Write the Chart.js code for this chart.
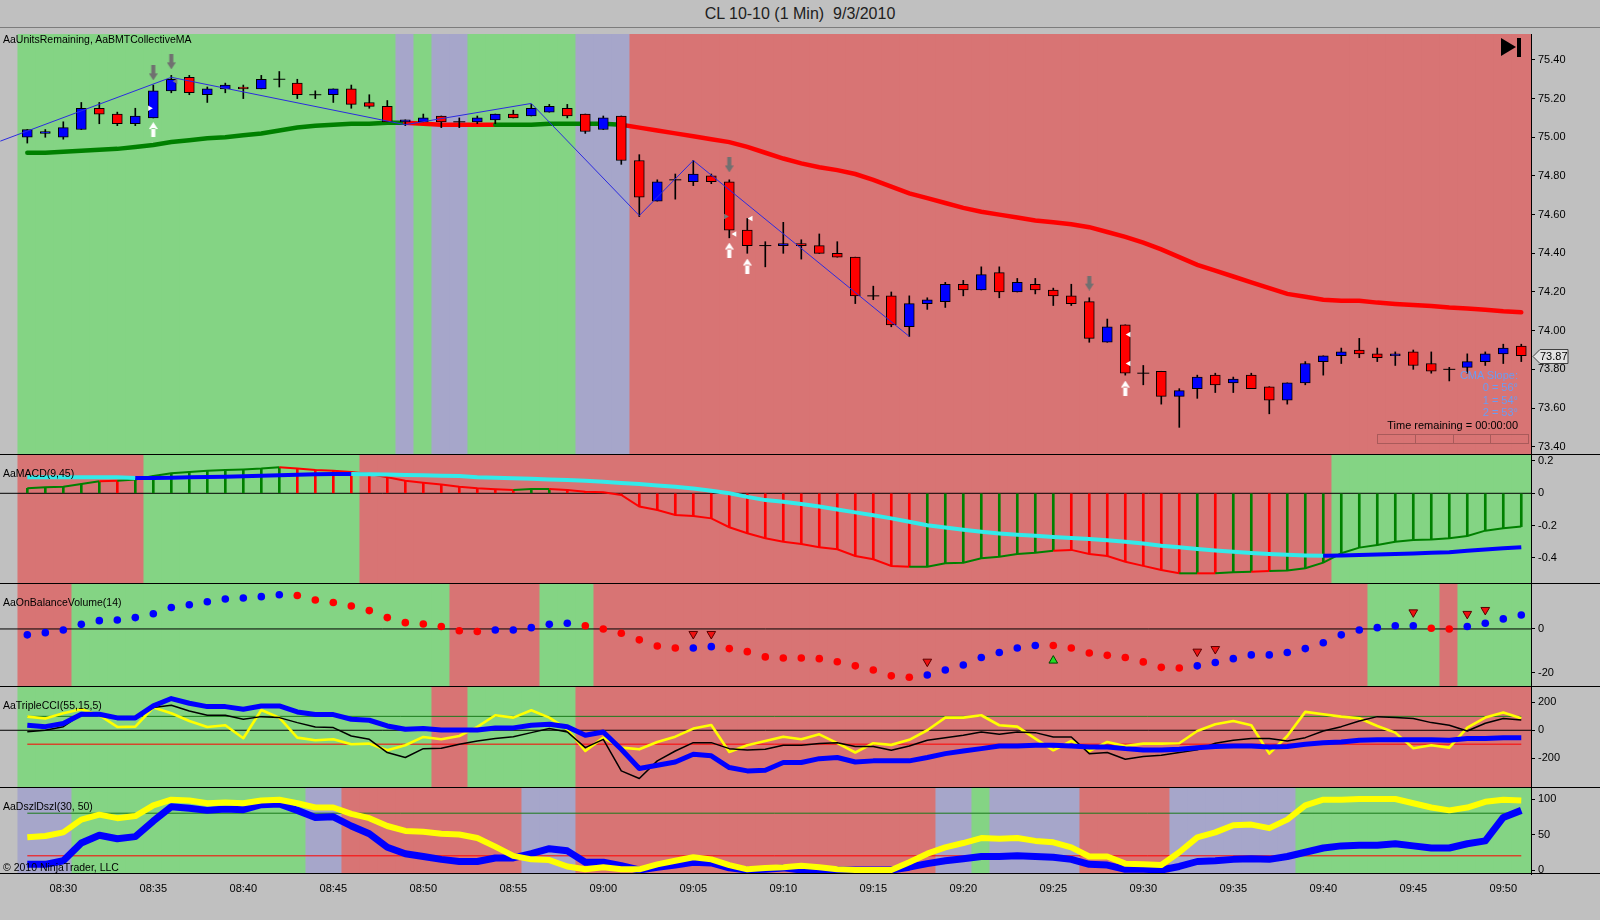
<!DOCTYPE html>
<html>
<head>
<meta charset="utf-8">
<title>CL 10-10 (1 Min) 9/3/2010</title>
<script src="https://cdn.jsdelivr.net/npm/chart.js@4.4.1/dist/chart.umd.min.js"></script>
<style>
  body { margin: 0; background: #c0c0c0; font-family: "Liberation Sans", Arial, sans-serif; }
  #wrap { position: relative; width: 1600px; height: 920px; overflow: hidden; }
  #title { position: absolute; left: 0; top: 0; width: 1600px; height: 27px; border-bottom: 1px solid #7c7c7c;
           text-align: center; font-size: 16px; line-height: 27px; color: #202020; }
  canvas { position: absolute; left: 0; }
  .lbl { position: absolute; left: 3px; font-size: 10.5px; line-height: 13px; color: #000; white-space: nowrap; }
  .info { position: absolute; right: 82px; font-size: 11px; line-height: 12.3px; text-align: right; white-space: nowrap; }
  #goEnd { position: absolute; left: 1501px; top: 38px; width: 22px; height: 19px; }
  #goEnd .tri { position: absolute; left: 0; top: 0; width: 0; height: 0; border-left: 15px solid #000;
                border-top: 9.5px solid transparent; border-bottom: 9.5px solid transparent; }
  #goEnd .bar { position: absolute; left: 16px; top: 0; width: 4px; height: 19px; background: #000; }
  #progress { position: absolute; left: 1377px; top: 434px; width: 150px; height: 8px; display: flex;
              border: 1px solid rgba(150, 80, 80, 0.7); }
  #progress i { flex: 1; border-right: 1px solid rgba(150, 80, 80, 0.7); }
  #progress i:last-child { border-right: none; }
</style>
</head>
<body>
<div id="wrap">
  <div id="title">CL 10-10 (1 Min)&nbsp; 9/3/2010</div>
  <canvas id="pricePanel" width="1600" height="421" style="top:34px"></canvas>
  <canvas id="macdPanel" width="1600" height="129" style="top:455px"></canvas>
  <canvas id="obvPanel" width="1600" height="103" style="top:584px"></canvas>
  <canvas id="cciPanel" width="1600" height="101" style="top:687px"></canvas>
  <canvas id="dszPanel" width="1600" height="132" style="top:788px"></canvas>

  <div class="lbl" style="top:33px">AaUnitsRemaining, AaBMTCollectiveMA</div>
  <div class="lbl" style="top:467px">AaMACD(9,45)</div>
  <div class="lbl" style="top:596px">AaOnBalanceVolume(14)</div>
  <div class="lbl" style="top:699px">AaTripleCCI(55,15,5)</div>
  <div class="lbl" style="top:800px">AaDszlDszl(30, 50)</div>
  <div class="lbl" style="top:861px">© 2010 NinjaTrader, LLC</div>
  <div id="goEnd"><span class="tri"></span><span class="bar"></span></div>
  <div class="info" style="top:369px;color:#6b9cf2">CMA Slope:<br>0 = 56°<br>1 = 54°<br>2 = 53°</div>
  <div class="info" style="top:419px;color:#000">Time remaining = 00:00:00</div>
  <div id="progress"><i></i><i></i><i></i><i></i></div>
</div>

<script>
// ---- data: one entry per 1-minute bar, 08:28 .. 09:51 ----
const timeLabels = ['08:30','08:35','08:40','08:45','08:50','08:55','09:00','09:05','09:10',
                    '09:15','09:20','09:25','09:30','09:35','09:40','09:45','09:50'];
const timeTickIdx = [2, 7, 12, 17, 22, 27, 32, 37, 42, 47, 52, 57, 62, 67, 72, 77, 82];

const opens = [75.00,75.02,75.00,75.04,75.15,75.12,75.07,75.10,75.24,75.31,
  75.22,75.25,75.26,75.25,75.30,75.28,75.22,75.22,75.25,75.18,
  75.16,75.08,75.08,75.11,75.08,75.08,75.09,75.12,75.11,75.13,
  75.15,75.12,75.04,75.11,74.88,74.67,74.78,74.77,74.80,74.77,
  74.52,74.44,74.44,74.45,74.44,74.40,74.38,74.18,74.18,74.02,
  74.14,74.15,74.24,74.21,74.30,74.20,74.24,74.21,74.18,74.15,
  73.94,74.03,73.78,73.79,73.66,73.70,73.77,73.73,73.77,73.71,
  73.64,73.73,73.84,73.87,73.90,73.88,73.87,73.89,73.83,73.80,
  73.81,73.84,73.88,73.92];
const highs = [75.04,75.04,75.08,75.18,75.18,75.13,75.15,75.27,75.32,75.32,
  75.26,75.28,75.27,75.32,75.34,75.30,75.24,75.25,75.27,75.22,
  75.19,75.09,75.12,75.11,75.10,75.11,75.12,75.14,75.17,75.17,
  75.17,75.12,75.11,75.11,74.91,74.78,74.81,74.88,74.81,74.78,
  74.58,74.46,74.56,74.47,74.50,74.46,74.38,74.23,74.20,74.18,
  74.17,74.25,74.26,74.33,74.33,74.27,74.27,74.22,74.24,74.17,
  74.06,74.03,73.82,73.79,73.70,73.77,73.78,73.76,73.78,73.71,
  73.73,73.84,73.87,73.91,73.96,73.91,73.89,73.90,73.89,73.81,
  73.88,73.89,73.93,73.93];
const lows = [74.97,75.00,74.99,75.04,75.07,75.06,75.06,75.10,75.23,75.22,
  75.18,75.23,75.20,75.25,75.26,75.20,75.20,75.18,75.15,75.15,
  75.08,75.06,75.08,75.05,75.05,75.07,75.07,75.10,75.11,75.13,
  75.10,75.02,75.04,74.86,74.59,74.67,74.68,74.75,74.76,74.48,
  74.40,74.33,74.40,74.37,74.40,74.38,74.14,74.16,74.02,73.97,
  74.11,74.12,74.18,74.21,74.17,74.20,74.19,74.13,74.13,73.94,
  73.94,73.77,73.72,73.62,73.50,73.65,73.68,73.68,73.70,73.57,
  73.62,73.72,73.77,73.83,73.86,73.84,73.82,73.80,73.78,73.74,
  73.78,73.82,73.83,73.84];
const closes = [75.04,75.03,75.05,75.15,75.12,75.07,75.11,75.24,75.30,75.23,
  75.25,75.27,75.25,75.30,75.30,75.22,75.22,75.25,75.17,75.16,
  75.08,75.09,75.10,75.08,75.08,75.10,75.12,75.10,75.15,75.16,
  75.11,75.03,75.10,74.88,74.69,74.77,74.78,74.81,74.77,74.52,
  74.44,74.44,74.45,74.44,74.40,74.38,74.18,74.18,74.03,74.14,
  74.16,74.24,74.21,74.29,74.20,74.25,74.21,74.18,74.14,73.96,
  74.02,73.78,73.78,73.66,73.69,73.76,73.72,73.75,73.70,73.64,
  73.73,73.83,73.87,73.89,73.88,73.86,73.88,73.82,73.79,73.80,
  73.84,73.88,73.91,73.87];

// collective moving average
const maLine = [74.92,74.92,74.925,74.93,74.935,74.94,74.95,74.96,74.975,74.985,
  74.995,75.00,75.01,75.02,75.035,75.05,75.06,75.065,75.07,75.07,
  75.075,75.075,75.07,75.065,75.065,75.065,75.065,75.065,75.065,75.07,
  75.07,75.07,75.07,75.065,75.05,75.035,75.02,75.005,74.99,74.975,
  74.95,74.92,74.89,74.865,74.845,74.83,74.81,74.78,74.745,74.71,
  74.685,74.66,74.635,74.615,74.60,74.585,74.57,74.56,74.55,74.535,
  74.51,74.485,74.455,74.42,74.38,74.34,74.31,74.28,74.25,74.22,
  74.19,74.175,74.16,74.155,74.155,74.145,74.138,74.133,74.128,74.12,
  74.115,74.108,74.10,74.095];
const maStateRuns = [['G',21],['R',5],['G',7],['R',51]];

// zigzag swing line
const zigIdx = [-1.5, 8, 21, 28, 34, 37, 49];
const zigPrice = [74.98, 75.31, 75.065, 75.175, 74.595, 74.88, 73.97];

// signal arrows and small markers
const downArrowIdx = [7, 8, 39, 59];
const downArrowPrice = [75.333, 75.39, 74.857, 74.246];
const upArrowIdx = [7, 39, 40, 61];
const upArrowPrice = [75.04, 74.417, 74.334, 73.703];
const markIdx = [6.8, 8.25, 38.8, 39.3, 40.2, 61.2, 61.2];
const markPrice = [75.15, 75.29, 74.59, 74.50, 74.58, 73.98, 73.83];
const markDir = ['R', 'L', 'R', 'L', 'L', 'L', 'L'];
const markTone = ['W', 'G', 'G', 'W', 'W', 'W', 'W'];

const priceTicks = [73.4, 73.6, 73.8, 74.0, 74.2, 74.4, 74.6, 74.8, 75.0, 75.2, 75.4];
const priceZoneRuns = [['G',21],['P',1],['G',1],['P',2],['G',6],['P',3],['R',50]];

// MACD(9,45)
const macdHist = [0.031,0.037,0.041,0.058,0.074,0.078,0.085,0.107,0.124,0.132,
  0.140,0.144,0.148,0.153,0.161,0.153,0.144,0.140,0.132,0.120,
  0.099,0.078,0.066,0.054,0.041,0.031,0.025,0.021,0.027,0.027,
  0.021,0.010,0.006,-0.010,-0.082,-0.103,-0.134,-0.140,-0.155,-0.210,
  -0.247,-0.278,-0.299,-0.313,-0.334,-0.346,-0.388,-0.408,-0.449,-0.454,
  -0.454,-0.433,-0.429,-0.402,-0.392,-0.375,-0.367,-0.355,-0.350,-0.375,
  -0.388,-0.423,-0.449,-0.474,-0.495,-0.495,-0.495,-0.489,-0.485,-0.480,
  -0.478,-0.464,-0.429,-0.371,-0.336,-0.320,-0.299,-0.289,-0.285,-0.278,
  -0.264,-0.231,-0.216,-0.206];
const macdSignal = [0.099,0.099,0.099,0.099,0.099,0.099,0.094,0.095,0.097,0.099,
  0.101,0.103,0.105,0.108,0.111,0.115,0.118,0.120,0.120,0.118,
  0.116,0.114,0.112,0.109,0.107,0.100,0.097,0.093,0.090,0.086,
  0.082,0.078,0.071,0.064,0.057,0.049,0.041,0.030,0.016,0.000,
  -0.022,-0.042,-0.052,-0.066,-0.082,-0.100,-0.118,-0.136,-0.155,-0.176,
  -0.198,-0.212,-0.226,-0.238,-0.248,-0.256,-0.263,-0.270,-0.277,-0.283,
  -0.290,-0.300,-0.311,-0.324,-0.334,-0.344,-0.354,-0.362,-0.369,-0.375,
  -0.380,-0.384,-0.386,-0.384,-0.381,-0.378,-0.375,-0.372,-0.368,-0.364,
  -0.356,-0.348,-0.340,-0.333];
const histStateRuns = [['G',5],['R',1],['G',9],['R',13],['G',2],['R',20],['G',8],['R',7],['G',1],['R',1],['G',2],['R',1],['G',14]];
const macdTicks = [0.2, 0, -0.2, -0.4];
const macdZoneRuns = [['R',7],['G',12],['R',54],['G',11]];

// OnBalanceVolume(14)
const obv = [-2.7,-1.7,-0.5,2.1,3.8,4.1,5.2,7.0,9.8,11.1,
  12.5,13.7,14.2,14.8,15.7,15.3,13.3,12.1,10.5,8.4,
  5.2,2.9,2.3,1.1,-0.8,-1.2,-0.5,-0.5,0.6,2.1,
  2.6,1.5,0.0,-2.0,-5.0,-7.8,-8.7,-8.7,-8.1,-9.0,
  -10.4,-12.8,-13.3,-13.3,-13.6,-15.0,-16.9,-18.8,-21.5,-22.1,
  -21.1,-18.8,-16.5,-13.1,-10.8,-8.7,-7.6,-7.6,-8.7,-11.0,
  -12.1,-13.1,-15.1,-17.6,-17.9,-16.9,-15.4,-13.6,-11.9,-11.9,
  -10.8,-9.0,-6.3,-2.7,-0.5,0.6,1.5,1.5,0.3,0.0,
  1.1,2.6,4.6,6.4];
const obvDirRuns = [['B',15],['R',11],['B',5],['R',6],['B',2],['R',11],['B',7],['R',8],['B',13],['R',2],['B',4]];
const obvSellIdx = [37, 38, 50, 65, 66, 77, 80, 81];
const obvSellVal = [-2.3, -2.3, -15.0, -10.4, -9.2, 7.6, 6.9, 8.7];
const obvBuyIdx = [57];
const obvBuyVal = [-14.5];
const obvTicks = [0, -20];
const obvZoneRuns = [['R',3],['G',21],['R',5],['G',3],['R',43],['G',4],['R',1],['G',4]];

// TripleCCI(55,15,5)
const cciFast = [98,84,122,151,108,24,26,163,122,67,
  24,36,-57,146,91,-53,-72,-65,-100,-96,
  -144,-108,-48,-65,-41,24,108,91,144,91,
  7,-149,-53,-125,-137,-84,-46,12,38,-156,
  -108,-77,-46,-65,-29,-93,-160,-93,-105,-69,
  0,91,91,108,36,26,-60,-144,-77,-149,
  -84,-113,-96,-96,-93,-5,43,67,36,-168,
  -41,132,115,98,86,31,-17,-129,-108,-125,
  19,91,127,86];
const cciMid = [-10,0,26,115,115,91,91,163,180,139,
  108,108,79,98,91,55,24,19,-41,-65,
  -160,-196,-132,-129,-100,-77,-60,-46,-17,12,
  -12,-125,-65,-292,-347,-220,-149,-89,-89,-132,
  -141,-137,-108,-108,-96,-89,-117,-117,-144,-113,
  -72,-53,-36,-12,-29,-12,-17,-48,-48,-168,
  -160,-208,-189,-180,-160,-141,-93,-72,-60,-60,
  -77,-53,-5,26,67,98,91,84,55,36,
  -5,50,84,74];
const cciSlow = [36,26,48,115,115,89,89,175,228,194,
  170,170,151,175,175,132,113,113,79,72,
  31,7,12,2,2,2,17,17,36,43,
  26,-36,-12,-137,-275,-251,-228,-172,-184,-268,
  -292,-287,-232,-232,-204,-196,-228,-220,-220,-220,
  -196,-168,-149,-132,-113,-113,-108,-108,-113,-120,
  -120,-132,-141,-141,-137,-125,-117,-113,-113,-120,
  -117,-100,-89,-84,-72,-69,-69,-69,-69,-72,
  -60,-60,-53,-53];
const cciLevels = [100, -100];
const cciTicks = [200, 0, -200];
const cciZoneRuns = [['G',23],['R',2],['G',6],['R',53]];

// DszlDszl(30, 50)
const dszFast = [46,48,53,71,78,73,76,91,99,98,
  94,95,94,98,99,94,88,88,79,73,
  62,55,54,51,50,45,33,20,15,14,
  5,1,4,1,1,8,13,18,15,7,
  1,3,4,6,4,1,0,0,0,11,
  23,32,38,45,44,45,41,39,32,19,
  19,9,8,7,25,46,53,63,64,59,
  71,91,99,99,100,100,100,94,88,84,
  88,96,99,98];
const dszSlow = [8,8,13,38,49,44,47,69,89,87,
  84,86,85,92,93,84,74,75,62,51,
  32,23,19,15,12,12,17,17,23,30,
  27,11,11,6,0,4,7,11,10,3,
  0,1,3,0,0,0,0,0,0,4,
  9,13,16,19,19,20,19,18,15,8,
  7,1,1,0,5,12,13,15,16,15,
  19,25,31,34,35,35,37,34,31,31,
  37,41,74,84];
const dszLevels = [80, 20];
const dszTicks = [100, 50, 0];
const dszZoneRuns = [['P',3],['G',13],['P',2],['R',10],['P',3],['R',20],['P',2],['G',1],['P',5],['R',5],['P',7],['G',13]];

// ---- chart setup ----
Chart.defaults.font.family = '"Liberation Sans", Arial, sans-serif';
Chart.defaults.font.size = 11;
Chart.defaults.color = '#000';
Chart.defaults.animation = false;
Chart.defaults.events = [];
Chart.defaults.plugins.legend.display = false;
Chart.defaults.plugins.tooltip.enabled = false;

const X_MIN = -1.517, X_MAX = 83.54;
const ZONE = { G: '#84d484', R: '#d87474', P: '#a6a6ca' };
const UPDN = { G: '#008000', R: '#ff0000', B: '#0000ff' };

const expand = runs => runs.flatMap(([s, k]) => Array(k).fill(s));
const idx = closes.map((_, i) => i);
const pts = (xs, ys) => xs.map((x, k) => ({ x: x, y: ys[k] }));
const series = vals => vals.map((v, i) => ({ x: i, y: v }));

const zoneBars = zones => ({
  type: 'bar', yAxisID: 'ybg', order: 10, grouped: false,
  data: zones.map((z, i) => ({ x: i, y: 1 })),
  backgroundColor: zones.map(z => ZONE[z]),
  barThickness: 19, maxBarThickness: 19, borderWidth: 0
});
const hLine = (y, x0, x1, color) => ({
  type: 'line', order: 6, data: [{ x: x0, y: y }, { x: x1, y: y }],
  borderColor: color, borderWidth: 1, pointRadius: 0
});
const lineSet = (vals, color, width, order) => ({
  type: 'line', order: order, data: series(vals), borderColor: color,
  borderWidth: width, pointRadius: 0, tension: 0, borderJoinStyle: 'round'
});

function arrowImg(color, down) {
  const c = document.createElement('canvas');
  c.width = 9; c.height = 15;
  const g = c.getContext('2d');
  g.fillStyle = color;
  g.beginPath();
  if (down) {
    g.rect(2.5, 0, 4, 9);
    g.moveTo(0, 8); g.lineTo(9, 8); g.lineTo(4.5, 15);
  } else {
    g.rect(2.5, 6, 4, 9);
    g.moveTo(0, 7); g.lineTo(9, 7); g.lineTo(4.5, 0);
  }
  g.fill();
  return c;
}

const panelLine = {
  id: 'panelLine',
  afterDraw(chart) {
    const ctx = chart.ctx, y = Math.round(chart.chartArea.bottom) - 0.5;
    ctx.save();
    ctx.strokeStyle = '#000';
    ctx.lineWidth = 1;
    ctx.beginPath(); ctx.moveTo(0, y); ctx.lineTo(chart.width, y); ctx.stroke();
    ctx.restore();
  }
};

const lastPriceTag = {
  id: 'lastPriceTag',
  afterDraw(chart) {
    const ctx = chart.ctx;
    const last = closes[closes.length - 1];
    const y = Math.round(chart.scales.y.getPixelForValue(last)) + 0.5;
    const x0 = chart.chartArea.right + 2;
    ctx.save();
    ctx.beginPath();
    ctx.moveTo(x0, y); ctx.lineTo(x0 + 7, y - 7); ctx.lineTo(x0 + 35, y - 7);
    ctx.lineTo(x0 + 35, y + 7); ctx.lineTo(x0 + 7, y + 7); ctx.closePath();
    ctx.fillStyle = '#e2e2e2'; ctx.fill();
    ctx.strokeStyle = '#404040'; ctx.lineWidth = 1; ctx.stroke();
    ctx.fillStyle = '#000'; ctx.font = '11px "Liberation Sans", Arial, sans-serif';
    ctx.textBaseline = 'middle';
    ctx.fillText(last.toFixed(2), x0 + 7, y + 0.5);
    ctx.restore();
  }
};

function makePanel(id, yMin, yMax, ticks, fmt, datasets, extraPlugins, showTime) {
  const xScale = {
    type: 'linear', min: X_MIN, max: X_MAX, display: false, offset: false,
    grid: { offset: false }
  };
  if (showTime) {
    Object.assign(xScale, {
      display: true, position: 'bottom',
      afterBuildTicks: s => { s.ticks = timeTickIdx.map(v => ({ value: v })); },
      afterFit: s => { s.height = 46; s.paddingLeft = 0; s.paddingRight = 0; },
      ticks: { callback: (v, i) => timeLabels[i], padding: 8, maxRotation: 0, autoSkip: false, color: '#000' },
      grid: { display: false, drawTicks: false, offset: false },
      border: { display: false }
    });
  }
  datasets.forEach(ds => { if (!ds.yAxisID) ds.yAxisID = 'y'; ds.xAxisID = 'x'; });
  return new Chart(document.getElementById(id), {
    type: 'line',
    data: { datasets: datasets },
    options: {
      responsive: false,
      layout: { padding: 0, autoPadding: false },
      scales: {
        x: xScale,
        y: {
          type: 'linear', position: 'right', min: yMin, max: yMax,
          afterBuildTicks: s => { s.ticks = ticks.map(v => ({ value: v })); },
          afterFit: s => { s.width = 69; s.paddingTop = 0; s.paddingBottom = 0; },
          ticks: { callback: fmt, padding: 3, color: '#000' },
          grid: { drawOnChartArea: false, tickLength: 4, tickColor: '#000' },
          border: { display: true, color: '#000' }
        },
        ybg: { type: 'linear', min: 0, max: 1, display: false }
      }
    },
    plugins: [panelLine].concat(extraPlugins || [])
  });
}

// ---- price panel ----
const maState = expand(maStateRuns);
const bodyIdx = idx.filter(i => opens[i] !== closes[i]);
const dojiIdx = idx.filter(i => opens[i] === closes[i]);

makePanel('pricePanel', 73.357, 75.534, priceTicks, v => v.toFixed(2), [
  zoneBars(expand(priceZoneRuns)),
  {
    type: 'line', order: 7, data: series(maLine), borderWidth: 4.5, pointRadius: 0,
    borderColor: '#008000', borderCapStyle: 'round',
    segment: { borderColor: c => UPDN[maState[c.p0DataIndex]] }
  },
  {
    type: 'bar', order: 5, grouped: false,
    data: idx.map(i => ({ x: i, y: [lows[i], highs[i]] })),
    backgroundColor: '#000', barThickness: 1, maxBarThickness: 1, borderWidth: 0
  },
  {
    type: 'bar', order: 4, grouped: false,
    data: bodyIdx.map(i => ({ x: i, y: [opens[i], closes[i]] })),
    backgroundColor: bodyIdx.map(i => closes[i] > opens[i] ? '#0000ff' : '#ff0000'),
    borderColor: '#000', borderWidth: 1, borderSkipped: false,
    barThickness: 10, maxBarThickness: 10
  },
  {
    type: 'scatter', order: 4, data: pts(dojiIdx, dojiIdx.map(i => closes[i])),
    pointStyle: 'line', pointRadius: 6, pointBorderColor: '#000', pointBorderWidth: 1
  },
  {
    type: 'line', order: 3, data: pts(zigIdx, zigPrice), borderColor: '#2b2be0',
    borderWidth: 1, pointRadius: 0, tension: 0
  },
  {
    type: 'scatter', order: 2, data: pts(markIdx, markPrice),
    pointStyle: 'triangle', pointRadius: 3.2, pointBorderWidth: 0,
    pointRotation: markDir.map(d => d === 'R' ? 90 : 270),
    pointBackgroundColor: markTone.map(t => t === 'W' ? '#ffffff' : '#7a7a7a')
  },
  {
    type: 'scatter', order: 1, data: pts(downArrowIdx, downArrowPrice),
    pointStyle: arrowImg('#707070', true), pointRadius: 8
  },
  {
    type: 'scatter', order: 1, data: pts(upArrowIdx, upArrowPrice),
    pointStyle: arrowImg('#ffffff', false), pointRadius: 8
  }
], [lastPriceTag]);

// ---- MACD panel ----
const macdZone = expand(macdZoneRuns);
const histState = expand(histStateRuns);
makePanel('macdPanel', -0.561, 0.237, macdTicks, v => v === 0 ? '0' : v.toFixed(1), [
  zoneBars(macdZone),
  hLine(0, X_MIN, X_MAX, '#000'),
  {
    type: 'bar', order: 5, grouped: false, data: series(macdHist),
    backgroundColor: histState.map(s => UPDN[s]),
    barThickness: 2, maxBarThickness: 2, borderWidth: 0
  },
  {
    type: 'line', order: 4, data: series(macdHist), borderWidth: 2, pointRadius: 0,
    borderColor: '#ff0000', segment: { borderColor: c => UPDN[histState[c.p1DataIndex]] }
  },
  {
    type: 'line', order: 3, data: series(macdSignal), borderWidth: 4, pointRadius: 0,
    borderColor: '#33eaea', segment: { borderColor: c => macdZone[c.p1DataIndex] === 'G' ? '#0000ff' : '#33eaea' }
  }
]);

// ---- OBV panel ----
const obvDir = expand(obvDirRuns);
makePanel('obvPanel', -26.6, 20.6, obvTicks, v => String(v), [
  zoneBars(expand(obvZoneRuns)),
  hLine(0, X_MIN, X_MAX, '#000'),
  {
    type: 'scatter', order: 3, data: series(obv), pointRadius: 3.8, pointBorderWidth: 0,
    pointBackgroundColor: obvDir.map(d => UPDN[d])
  },
  {
    type: 'scatter', order: 2, data: pts(obvSellIdx, obvSellVal), pointStyle: 'triangle',
    pointRotation: 180, pointRadius: 5, pointBackgroundColor: '#ee1111',
    pointBorderColor: '#5a0000', pointBorderWidth: 1
  },
  {
    type: 'scatter', order: 2, data: pts(obvBuyIdx, obvBuyVal), pointStyle: 'triangle',
    pointRadius: 5, pointBackgroundColor: '#22dd22', pointBorderColor: '#004400', pointBorderWidth: 1
  }
]);

// ---- TripleCCI panel ----
makePanel('cciPanel', -415, 311, cciTicks, v => String(v), [
  zoneBars(expand(cciZoneRuns)),
  hLine(0, X_MIN, X_MAX, '#000'),
  hLine(cciLevels[0], 0, 83, '#1a7a1a'),
  hLine(cciLevels[1], 0, 83, '#ff0000'),
  lineSet(cciFast, '#ffff00', 2.6, 4),
  lineSet(cciMid, '#000000', 1.5, 3),
  lineSet(cciSlow, '#0000ff', 5, 2)
]);

// ---- DszlDszl panel ----
makePanel('dszPanel', -5.6, 115.5, dszTicks, v => String(v), [
  zoneBars(expand(dszZoneRuns)),
  hLine(dszLevels[0], 0, 83, '#1a7a1a'),
  hLine(dszLevels[1], 0, 83, '#ff0000'),
  lineSet(dszSlow, '#0000ff', 7, 4),
  lineSet(dszFast, '#ffff00', 6, 3)
], [], true);
</script>
</body>
</html>
